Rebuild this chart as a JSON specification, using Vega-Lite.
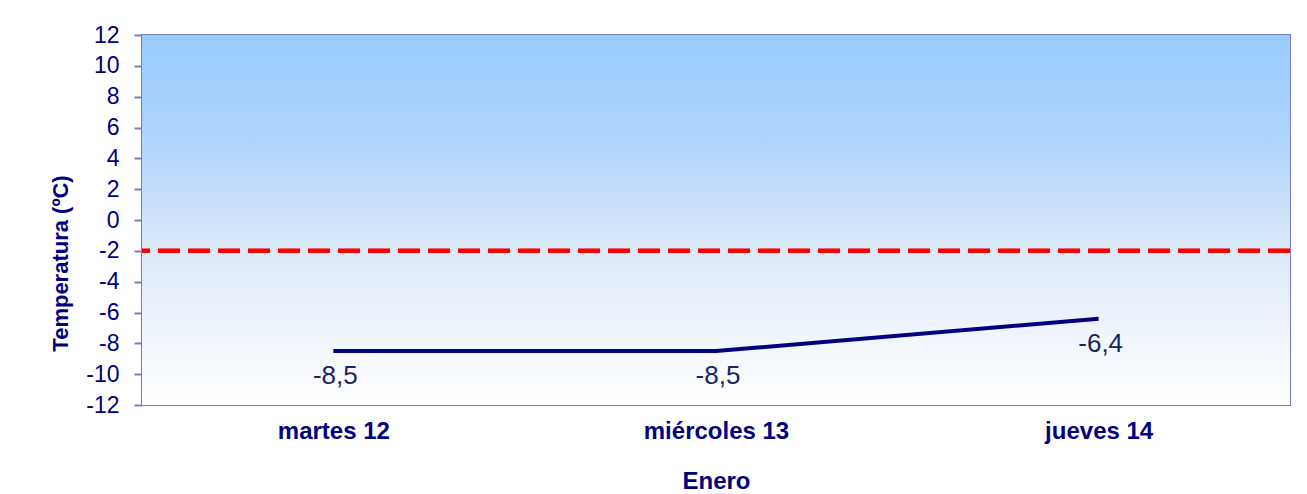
{
  "$schema": "https://vega.github.io/schema/vega-lite/v6.json",
  "width": 1148,
  "height": 370,
  "autosize": {"type": "none"},
  "padding": {"left": 142, "top": 35, "right": 17, "bottom": 89},
  "background": "white",
  "config": {
    "font": "Liberation Sans",
    "view": {"stroke": "#7b7bc4", "strokeWidth": 2},
    "axisY": {
      "labelOverlap": false, "labelFlush": false, "grid": false,
      "domainColor": "#7b7bc4", "domainWidth": 2,
      "tickColor": "#7b7bc4", "tickWidth": 2, "tickSize": 8,
      "labelFont": "Liberation Sans", "labelFontSize": 23, "labelColor": "#000080", "labelPadding": 15,
      "titleFont": "Liberation Sans", "titleFontSize": 22, "titleFontWeight": "bold", "titleColor": "#000080",
      "titlePadding": 13, "titleY": 228
    }
  },
  "data": {
    "values": [
      {"dia": "martes 12", "temp": -8.5, "label": "-8,5"},
      {"dia": "miércoles 13", "temp": -8.5, "label": "-8,5"},
      {"dia": "jueves 14", "temp": -6.4, "label": "-6,4"}
    ]
  },
  "encoding": {
    "x": {
      "field": "dia", "type": "nominal", "sort": null,
      "scale": {"paddingInner": 0, "paddingOuter": 0},
      "axis": {
        "title": "Enero", "labelAngle": 0, "ticks": false, "domain": false,
        "labelFont": "Liberation Sans", "labelFontSize": 24, "labelFontWeight": "bold", "labelColor": "#000080",
        "labelPadding": 14,
        "titleFont": "Liberation Sans", "titleFontSize": 24, "titleFontWeight": "bold", "titleColor": "#000080",
        "titlePadding": 26
      }
    }
  },
  "layer": [
    {
      "mark": {
        "type": "rect",
        "color": {
          "gradient": "linear", "x1": 0, "y1": 0, "x2": 0, "y2": 1,
          "stops": [
            {"offset": 0, "color": "#99ccff"},
            {"offset": 0.3, "color": "#b0d5fc"},
            {"offset": 0.6, "color": "#dfeafa"},
            {"offset": 1, "color": "#ffffff"}
          ]
        }
      },
      "encoding": {
        "x": null,
        "y": {
          "datum": 12, "type": "quantitative",
          "scale": {"domain": [-12, 12], "nice": false},
          "axis": {
            "title": "Temperatura (ºC)",
            "values": [-12, -10, -8, -6, -4, -2, 0, 2, 4, 6, 8, 10, 12],
            "labelExpr": "'' + datum.value"
          }
        },
        "y2": {"datum": -12}
      }
    },
    {
      "mark": {"type": "rule", "color": "#ff0000", "strokeWidth": 4, "strokeDash": [22, 8]},
      "encoding": {
        "x": null,
        "y": {
          "datum": -2, "type": "quantitative",
          "axis": {
            "title": "Temperatura (ºC)",
            "values": [-12, -10, -8, -6, -4, -2, 0, 2, 4, 6, 8, 10, 12],
            "labelExpr": "'' + datum.value"
          }
        }
      }
    },
    {
      "mark": {"type": "line", "color": "#000080", "strokeWidth": 4},
      "encoding": {
        "y": {
          "field": "temp", "type": "quantitative",
          "axis": {
            "title": "Temperatura (ºC)",
            "values": [-12, -10, -8, -6, -4, -2, 0, 2, 4, 6, 8, 10, 12],
            "labelExpr": "'' + datum.value"
          }
        }
      }
    },
    {
      "mark": {"type": "text", "fontSize": 26, "color": "#1a2560", "dy": 25, "dx": 2, "font": "Liberation Sans"},
      "encoding": {
        "y": {
          "field": "temp", "type": "quantitative",
          "axis": {
            "title": "Temperatura (ºC)",
            "values": [-12, -10, -8, -6, -4, -2, 0, 2, 4, 6, 8, 10, 12],
            "labelExpr": "'' + datum.value"
          }
        },
        "text": {"field": "label"}
      }
    }
  ]
}
